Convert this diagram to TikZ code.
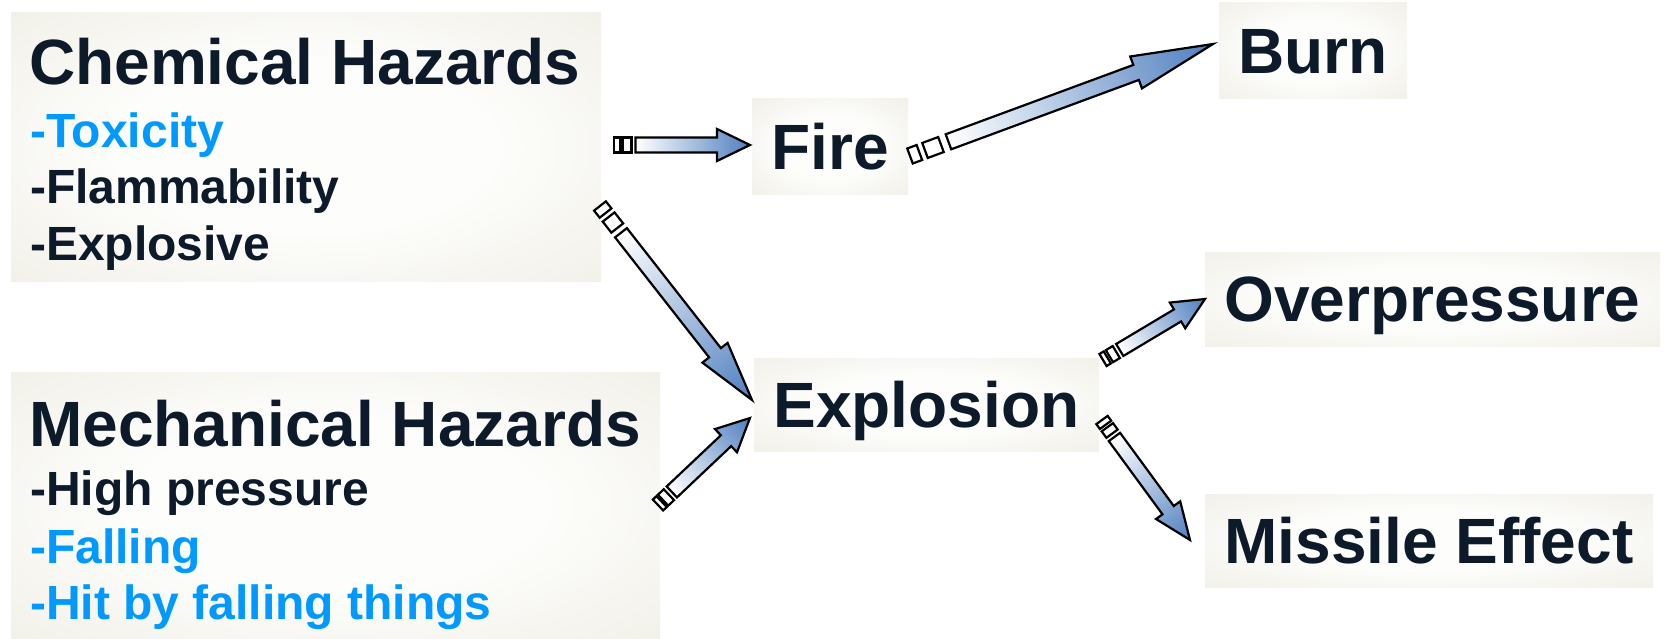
\documentclass[tikz,border=0pt]{standalone}
\usepackage{fontspec}
\setmainfont{Liberation Sans}
\usetikzlibrary{calc}

\definecolor{inkdark}{HTML}{0C1A2A}
\definecolor{inkblue}{HTML}{0099FF}
\definecolor{boxbeige}{HTML}{ECEAE0}
\definecolor{boxcore}{HTML}{FDFDFB}
\definecolor{arrowblue}{HTML}{4F7FBF}

% soft light centre fading to beige at the box edges
\pgfdeclareradialshading{boxglow}{\pgfpoint{0bp}{0bp}}{%
  color(0bp)=(boxcore); color(16bp)=(boxcore);
  color(45bp)=(boxbeige); color(50bp)=(boxbeige)}

\newcommand\bigfont{\fontsize{64}{70}\selectfont\bfseries}
\newcommand\itemfont{\fontsize{48}{54}\selectfont\bfseries}

\tikzset{
  hazbox/.style={shade, shading=boxglow, inner sep=0pt, rectangle},
  titlebox/.style={hazbox, text=inkdark, font=\bigfont,
                   text height=45pt, text depth=0pt},
  line/.style={anchor=base west, inner sep=0pt, font=\itemfont},
  headline/.style={anchor=base west, inner sep=0pt, font=\bigfont, text=inkdark},
  stripe/.style={draw=black, fill=white, line width=2.2pt, line join=miter},
  arrowbody/.style={draw=black, line width=2.2pt, line join=miter,
                    left color=white, right color=arrowblue},
}

% striped block arrow between two named coordinates
% #1 from, #2 to, #3 shaft half width, #4 head half width, #5 head length,
% #6 first stripe, #7 gap, #8 second stripe, #9 gap before the shaft
\newdimen\sax \newdimen\say \newdimen\sbx \newdimen\sby
\newcommand\stripedarrow[9]{%
  \pgfextractx{\sax}{\pgfpointanchor{#1}{center}}%
  \pgfextracty{\say}{\pgfpointanchor{#1}{center}}%
  \pgfextractx{\sbx}{\pgfpointanchor{#2}{center}}%
  \pgfextracty{\sby}{\pgfpointanchor{#2}{center}}%
  \pgfmathsetmacro\sang{atan2(\sby-\say,\sbx-\sax)}%
  \pgfmathsetmacro\slen{veclen(\sbx-\sax,\sby-\say)}%
  \pgfmathsetmacro\sa{#6}%
  \pgfmathsetmacro\sb{#6+#7}%
  \pgfmathsetmacro\sc{#6+#7+#8}%
  \pgfmathsetmacro\sd{#6+#7+#8+#9}%
  \pgfmathsetmacro\se{\slen-#5}%
  \begin{scope}[transform canvas={shift={(\the\sax,\the\say)},rotate=\sang}]
    \draw[stripe] (0,-#3) rectangle (\sa,#3);
    \draw[stripe] (\sb,-#3) rectangle (\sc,#3);
    \path[arrowbody] (\sd,-#3) -- (\se,-#3) -- (\se,-#4) -- (\slen,0)
      -- (\se,#4) -- (\se,#3) -- (\sd,#3) -- cycle;
  \end{scope}}

\begin{document}
\begin{tikzpicture}[x=1pt,y=-1pt]
  \useasboundingbox (0,0) rectangle (1665,639);

  % hazard sources
  \node[hazbox, minimum width=590pt, minimum height=268pt] (chem) at (306,147) {};
  \node[hazbox, minimum width=649pt, minimum height=268pt] (mech) at (335.5,506) {};

  \node[headline] (chemT) at (29,85) {Chemical Hazards};
  \node[line, text=inkblue] (chem1) at (30,148) {-Toxicity};
  \node[line, text=inkdark] (chem2) at (30,204) {-Flammability};
  \node[line, text=inkdark] (chem3) at (30,260) {-Explosive};

  \node[headline] (mechT) at (29,446) {Mechanical Hazards};
  \node[line, text=inkdark] (mech1) at (30,505) {-High pressure};
  \node[line, text=inkblue] (mech2) at (30,563) {-Falling};
  \node[line, text=inkblue] (mech3) at (30,619) {-Hit by falling things};

  % events and consequences
  \node[titlebox, minimum width=156pt, minimum height=96pt] (fire) at (830,147) {Fire};
  \node[titlebox, minimum width=188pt, minimum height=96pt] (burn) at (1313,51) {Burn};
  \node[titlebox, minimum width=345pt, minimum height=93pt] (expl) at (926.5,404.5) {Explosion};
  \node[titlebox, minimum width=455pt, minimum height=94pt] (over) at (1432.5,299) {Overpressure};
  \node[titlebox, minimum width=448pt, minimum height=93pt] (miss) at (1429,540.5) {Missile Effect};

  % arrow end points
  \coordinate (a1s) at (614,145);  \coordinate (a1e) at (750,145);
  \coordinate (a2s) at (600,206);  \coordinate (a2e) at (752,400);
  \coordinate (a3s) at (658,505);  \coordinate (a3e) at (750,418);
  \coordinate (a4s) at (910,156);  \coordinate (a4e) at (1213,44);
  \coordinate (a5s) at (1103,360); \coordinate (a5e) at (1205,299);
  \coordinate (a6s) at (1102,420); \coordinate (a6e) at (1190,540);

  \stripedarrow{a1s}{a1e}{7.5}{16}{33}{6}{2.5}{9}{4}
  \stripedarrow{a2s}{a2e}{7.5}{16}{60}{9}{5}{14}{6}
  \stripedarrow{a3s}{a3e}{7.5}{16}{33}{5}{2}{8}{4}
  \stripedarrow{a4s}{a4e}{8}{17}{82}{10}{6}{17}{8}
  \stripedarrow{a5s}{a5e}{7}{15}{32}{5}{2.5}{8}{4}
  \stripedarrow{a6s}{a6e}{7}{15}{37}{6}{3}{8}{4}
\end{tikzpicture}
\end{document}
